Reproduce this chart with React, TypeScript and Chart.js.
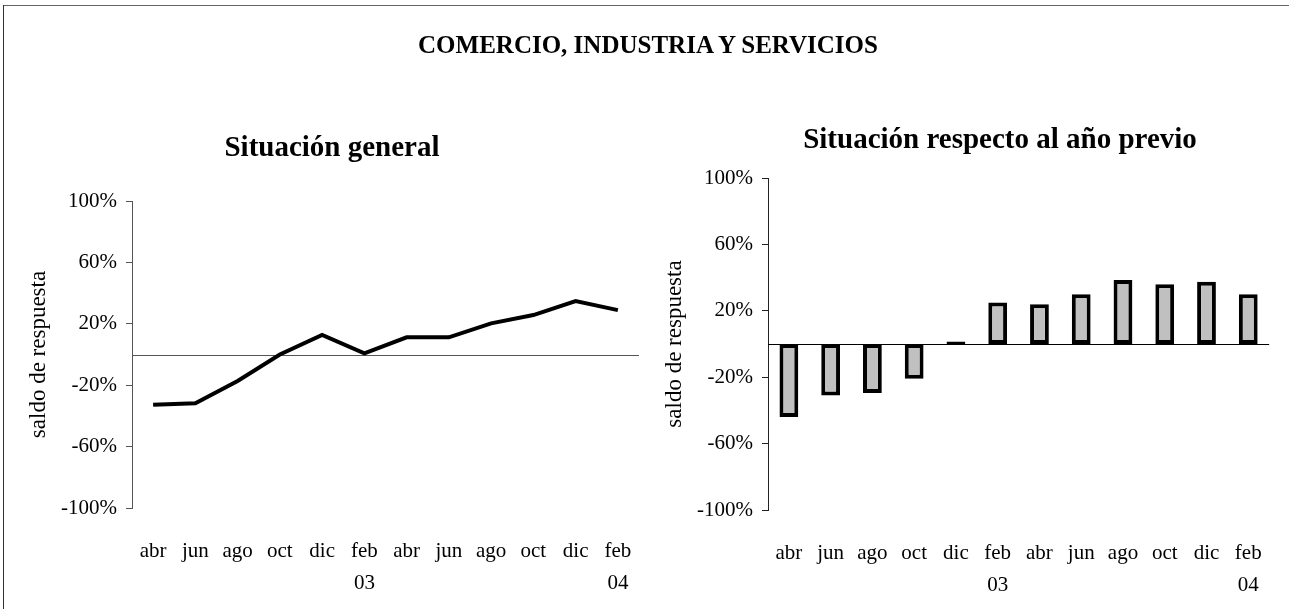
import React, { useEffect, useRef } from "react";
import { Chart, registerables } from "chart.js";

Chart.register(...registerables);

// ---------- data ----------
const monthLabels = ["abr", "jun", "ago", "oct", "dic", "feb", "abr", "jun", "ago", "oct", "dic", "feb"];
const yearLabels = ["", "", "", "", "", "03", "", "", "", "", "", "04"];
const generalValues = [-32.8, -31.7, -17.2, 0, 12.7, 0.8, 11.2, 11.2, 20.3, 25.7, 34.8, 28.9];
const previousYearValues = [-44, -31, -29.5, -21, 1.5, 25, 24, 30, 38.5, 36, 37.5, 30];
const yTicks = [-100, -60, -20, 20, 60, 100];

const mainTitle = "COMERCIO, INDUSTRIA Y SERVICIOS";
const leftTitle = "Situación general";
const rightTitle = "Situación respecto al año previo";
const yAxisTitle = "saldo de respuesta";

const FONT = "'Liberation Serif', 'Times New Roman', serif";

const categoryLabels = monthLabels.map((m, i) => (yearLabels[i] ? [m, yearLabels[i]] : m));

function zeroLinePlugin(color: string) {
  return {
    id: "zeroLine",
    beforeDatasetsDraw(chart: any) {
      const ctx = chart.ctx;
      const y = Math.round(chart.scales.y.getPixelForValue(0)) + 0.5;
      const { left, right } = chart.chartArea;
      ctx.save();
      ctx.strokeStyle = color;
      ctx.lineWidth = 1;
      ctx.beginPath();
      ctx.moveTo(left, y);
      ctx.lineTo(right, y);
      ctx.stroke();
      ctx.restore();
    },
  };
}

function makeScales(axisColor: string) {
  return {
    x: {
      offset: true,
      grid: { display: false, drawTicks: false },
      border: { display: false },
      ticks: {
        color: "#000",
        font: { family: FONT, size: 21, lineHeight: 1.55 },
        padding: 27,
        maxRotation: 0,
        autoSkip: false,
      },
      afterFit: (s: any) => {
        s.height = 90;
      },
    },
    y: {
      min: -100,
      max: 100,
      afterBuildTicks: (s: any) => {
        s.ticks = yTicks.map((v) => ({ value: v }));
      },
      afterFit: (s: any) => {
        s.width = 107;
      },
      grid: { drawOnChartArea: false, drawTicks: true, tickLength: 6, color: axisColor, lineWidth: 1 },
      border: { display: true, color: axisColor, width: 1 },
      ticks: {
        color: "#000",
        font: { family: FONT, size: 21 },
        padding: 9,
        callback: (v: any) => v + "%",
      },
      title: {
        display: true,
        text: yAxisTitle,
        color: "#000",
        font: { family: FONT, size: 23 },
        padding: { top: 0, bottom: 0 },
      },
    },
  };
}

function LeftChart() {
  const ref = useRef<HTMLCanvasElement>(null);
  useEffect(() => {
    const chart = new Chart(ref.current!, {
      type: "line",
      data: {
        labels: categoryLabels,
        datasets: [
          {
            data: generalValues,
            borderColor: "#000",
            borderWidth: 4,
            pointRadius: 0,
            tension: 0,
            fill: false,
          },
        ],
      },
      options: {
        responsive: false,
        animation: false,
        layout: { padding: { left: 25, top: 201, right: 21, bottom: 11 } },
        plugins: { legend: { display: false }, tooltip: { enabled: false } },
        scales: makeScales("#555") as any,
      },
      plugins: [zeroLinePlugin("#555")],
    });
    return () => chart.destroy();
  }, []);
  return <canvas ref={ref} width={660} height={609} style={{ position: "absolute", left: 0, top: 0 }} />;
}

function RightChart() {
  const ref = useRef<HTMLCanvasElement>(null);
  useEffect(() => {
    const chart = new Chart(ref.current!, {
      type: "bar",
      data: {
        labels: categoryLabels,
        datasets: [
          {
            data: previousYearValues,
            backgroundColor: "#c0c0c0",
            borderColor: "#000",
            borderWidth: 4,
            borderSkipped: false,
            categoryPercentage: 1,
            barPercentage: 0.45,
          },
        ],
      },
      options: {
        responsive: false,
        animation: false,
        layout: { padding: { left: 11, top: 178, right: 8, bottom: 9 } },
        plugins: { legend: { display: false }, tooltip: { enabled: false } },
        scales: makeScales("#222") as any,
      },
      plugins: [zeroLinePlugin("#000")],
    });
    return () => chart.destroy();
  }, []);
  return <canvas ref={ref} width={639} height={609} style={{ position: "absolute", left: 650, top: 0 }} />;
}

const titleStyle = (x: number, y: number, size: number): React.CSSProperties => ({
  position: "absolute",
  left: x,
  top: y,
  transform: "translate(-50%, -50%)",
  fontFamily: FONT,
  fontWeight: "bold",
  fontSize: size,
  lineHeight: 1,
  whiteSpace: "nowrap",
  color: "#000",
});

export default function App() {
  return (
    <div
      style={{
        position: "fixed",
        left: 0,
        top: 0,
        width: 1289,
        height: 609,
        overflow: "hidden",
        background: "#fff",
      }}
    >
      <div style={{ position: "absolute", left: 3, top: 5, width: 1300, height: 1, background: "#5a5ab0" }} />
      <div style={{ position: "absolute", left: 3, top: 5, width: 1, height: 620, background: "#2020a0" }} />
      <LeftChart />
      <RightChart />
      <div style={titleStyle(648, 44, 25)}>{mainTitle}</div>
      <div style={titleStyle(332, 146, 29)}>{leftTitle}</div>
      <div style={titleStyle(1000, 138, 29)}>{rightTitle}</div>
    </div>
  );
}
